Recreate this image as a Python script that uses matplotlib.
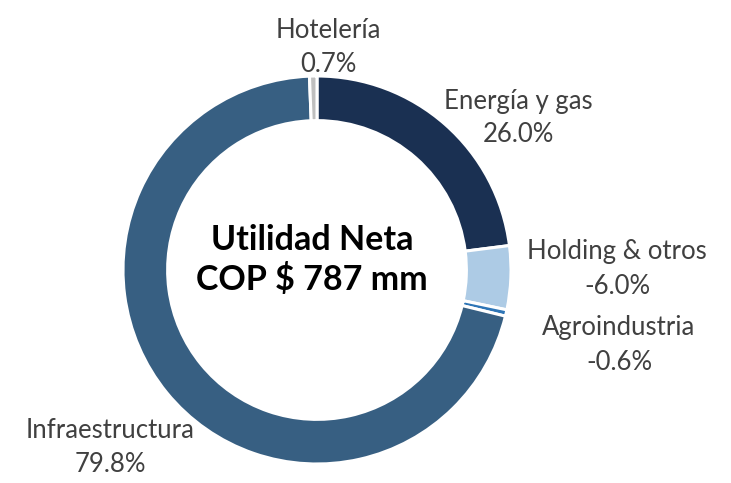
import matplotlib
matplotlib.use("Agg")
import matplotlib.pyplot as plt

# data
labels = ["Energía y gas", "Holding & otros", "Agroindustria", "Infraestructura", "Hotelería"]
values = [26.0, -6.0, -0.6, 79.8, 0.7]
colors = ["#1a3052", "#adcbe5", "#2e75b6", "#375f82", "#bfbfbf"]
center_text = "Utilidad Neta\nCOP $ 787 mm"

plt.rcParams['font.family'] = ['Lato', 'DejaVu Sans']

W, H = 731, 483
fig = plt.figure(figsize=(W / 100, H / 100), dpi=100)
cx, cy, R = 317, 270, 194
ax = fig.add_axes([(cx - R) / W, (H - cy - R) / H, 2 * R / W, 2 * R / H])

sizes = [abs(v) for v in values]
ax.pie(sizes, colors=colors, startangle=90, counterclock=False, radius=1,
       wedgeprops=dict(width=0.23, edgecolor="white", linewidth=2.2))
ax.set_xlim(-1, 1)
ax.set_ylim(-1, 1)
ax.set_aspect("equal")
ax.axis("off")

fig.text(312 / W, 1 - 260 / H, center_text, ha="center", va="center", fontsize=24.5,
         fontweight="bold", color="black", linespacing=1.25)

# label positions in pixel coords (x, y from top)
label_pos = [(518, 118), (617, 269), (619, 345), (110, 447), (328, 47)]
for lab, v, (px, py) in zip(labels, values, label_pos):
    fig.text(px / W, 1 - py / H, f"{lab}\n{v:.1f}%", ha="center", va="center",
             fontsize=18.5, color="#404040", linespacing=1.45)

fig.savefig("out.png", dpi=100)
